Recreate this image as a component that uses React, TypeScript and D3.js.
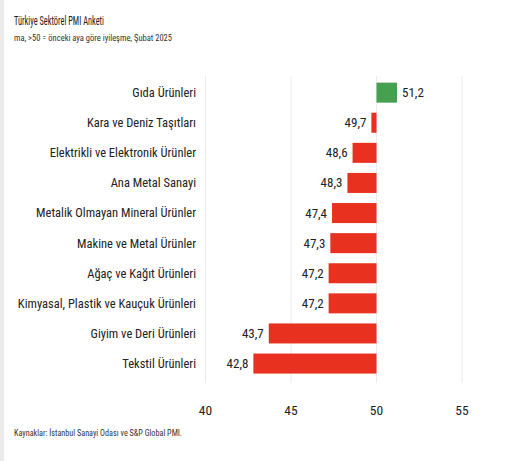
import * as d3 from 'd3'
import React, { useEffect, useRef } from 'react'

// Sector names and PMI values (Şubat 2025)
const sectors = [
  'Gıda Ürünleri',
  'Kara ve Deniz Taşıtları',
  'Elektrikli ve Elektronik Ürünler',
  'Ana Metal Sanayi',
  'Metalik Olmayan Mineral Ürünler',
  'Makine ve Metal Ürünler',
  'Ağaç ve Kağıt Ürünleri',
  'Kimyasal, Plastik ve Kauçuk Ürünleri',
  'Giyim ve Deri Ürünleri',
  'Tekstil Ürünleri'
]
const pmiValues = [51.2, 49.7, 48.6, 48.3, 47.4, 47.3, 47.2, 47.2, 43.7, 42.8]
const xTicks = [40, 45, 50, 55]

const title = 'Türkiye Sektörel PMI Anketi'
const subtitle = 'ma, >50 = önceki aya göre iyileşme, Şubat 2025'
const source = 'Kaynaklar: İstanbul Sanayi Odası ve S&P Global PMI.'

const FONT = '"Liberation Sans Narrow", "Roboto Condensed", "Arial Narrow", sans-serif'

const App = () => {
  const svgRef = useRef<SVGSVGElement | null>(null)
  const width = 526
  const height = 461

  useEffect(() => {
    if (!svgRef.current) return
    const svg = d3.select(svgRef.current)
    svg.selectAll('*').remove()

    svg.append('rect').attr('width', width).attr('height', height).attr('fill', '#fff')
    // thin grey strip on the left edge
    svg.append('rect').attr('width', 4).attr('height', height).attr('fill', '#ececec')

    const x = d3.scaleLinear().domain([40, 55]).range([205.5, 462])
    const y = d3
      .scaleBand<string>()
      .domain(sectors)
      .range([77.6, 378.6])
      .paddingInner(0.335)
      .paddingOuter(0.167)

    // grid lines
    svg
      .append('g')
      .selectAll('line')
      .data(xTicks)
      .enter()
      .append('line')
      .attr('x1', (d) => x(d))
      .attr('x2', (d) => x(d))
      .attr('y1', 76)
      .attr('y2', 383)
      .attr('stroke', '#ececec')
      .attr('stroke-width', 1)

    const rows = sectors.map((s, i) => ({ name: s, value: pmiValues[i] }))

    // bars from 50
    svg
      .append('g')
      .selectAll('rect')
      .data(rows)
      .enter()
      .append('rect')
      .attr('x', (d) => x(Math.min(50, d.value)))
      .attr('y', (d) => y(d.name)!)
      .attr('width', (d) => Math.abs(x(d.value) - x(50)))
      .attr('height', y.bandwidth())
      .attr('fill', (d) => (d.value >= 50 ? '#47a04f' : '#e8311f'))

    // value labels
    svg
      .append('g')
      .selectAll('text')
      .data(rows)
      .enter()
      .append('text')
      .attr('x', (d) => (d.value >= 50 ? x(d.value) + 5 : x(d.value) - 5))
      .attr('y', (d) => y(d.name)! + y.bandwidth() / 2)
      .attr('dy', '0.35em')
      .attr('text-anchor', (d) => (d.value >= 50 ? 'start' : 'end'))
      .style('font-family', FONT)
      .style('font-size', '13px')
      .style('fill', '#222')
      .text((d) => d3.format('.1f')(d.value).replace('.', ','))

    // category labels
    svg
      .append('g')
      .selectAll('text')
      .data(rows)
      .enter()
      .append('text')
      .attr('x', 196)
      .attr('y', (d) => y(d.name)! + y.bandwidth() / 2)
      .attr('dy', '0.35em')
      .attr('text-anchor', 'end')
      .style('font-family', FONT)
      .style('font-size', '12.5px')
      .style('fill', '#222')
      .text((d) => d.name)

    // x tick labels
    svg
      .append('g')
      .selectAll('text')
      .data(xTicks)
      .enter()
      .append('text')
      .attr('x', (d) => x(d))
      .attr('y', 410)
      .attr('dy', '0.35em')
      .attr('text-anchor', 'middle')
      .style('font-family', FONT)
      .style('font-size', '13.5px')
      .style('fill', '#222')
      .text((d) => d)

    // titles (condensed to the reference widths)
    svg
      .append('text')
      .attr('x', 14)
      .attr('y', 25)
      .attr('textLength', 90)
      .attr('lengthAdjust', 'spacingAndGlyphs')
      .style('font-family', FONT)
      .style('font-size', '13.5px')
      .style('fill', '#222')
      .text(title)

    svg
      .append('text')
      .attr('x', 14)
      .attr('y', 41)
      .attr('textLength', 158)
      .attr('lengthAdjust', 'spacingAndGlyphs')
      .style('font-family', FONT)
      .style('font-size', '9.5px')
      .style('fill', '#333')
      .text(subtitle)

    svg
      .append('text')
      .attr('x', 14)
      .attr('y', 436)
      .attr('textLength', 168)
      .attr('lengthAdjust', 'spacingAndGlyphs')
      .style('font-family', FONT)
      .style('font-size', '9.5px')
      .style('fill', '#333')
      .text(source)
  }, [])

  return (
    <svg
      ref={svgRef}
      width={width}
      height={height}
      style={{ position: 'absolute', left: 0, top: 0, display: 'block' }}
    />
  )
}

export default App
